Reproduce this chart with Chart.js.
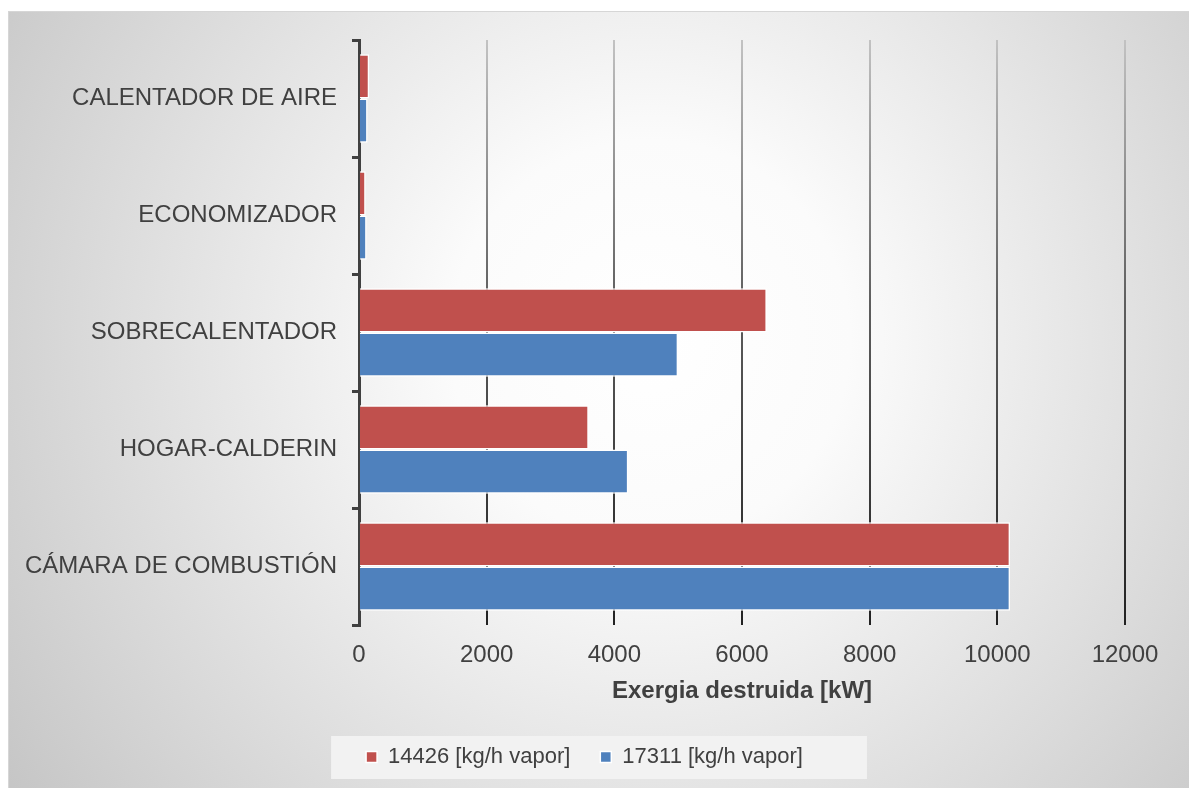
<!DOCTYPE html>
<html>
<head>
<meta charset="utf-8">
<script src="https://cdn.jsdelivr.net/npm/chart.js@4/dist/chart.umd.min.js"></script>
<style>
  html, body { margin: 0; padding: 0; background: #ffffff; }
  #wrap { width: 1189px; height: 788px; position: relative; }
</style>
</head>
<body>
<div id="wrap"><canvas id="c" width="1189" height="788"></canvas></div>
<script>
const categories = ["CALENTADOR DE AIRE", "ECONOMIZADOR", "SOBRECALENTADOR", "HOGAR-CALDERIN", "CÁMARA DE COMBUSTIÓN"];
const seriesNames = ["14426 [kg/h vapor]", "17311 [kg/h vapor]"];
const series14426 = [160, 105, 6390, 3600, 10200];
const series17311 = [135, 120, 5000, 4220, 10200];
const xTicks = [0, 2000, 4000, 6000, 8000, 10000, 12000];
const axisTitle = "Exergia destruida [kW]";

const FONT = "'Liberation Sans', Arial, sans-serif";
const TEXT = "#404040";

const bgPlugin = {
  id: 'bg',
  afterLayout(chart) {
    const lg = chart.legend;
    if (lg) { lg.left += 12; lg.right += 12; }
  },
  beforeDraw(chart) {
    const ctx = chart.ctx;
    const W = chart.width, H = chart.height;
    ctx.save();
    ctx.fillStyle = '#ffffff';
    ctx.fillRect(0, 0, W, H);
    const g = ctx.createRadialGradient(650, 340, 0, 650, 340, 800);
    g.addColorStop(0, '#ffffff');
    g.addColorStop(0.25, '#fbfbfb');
    g.addColorStop(1, '#c4c4c4');
    ctx.fillStyle = g;
    ctx.fillRect(8, 11, W - 8, H - 11);
    ctx.strokeStyle = '#d6d6d6';
    ctx.lineWidth = 1;
    ctx.strokeRect(8.5, 11.5, W - 8, H - 11);
    const lg = chart.legend;
    if (lg && lg.legendHitBoxes && lg.legendHitBoxes.length) {
      const hb = lg.legendHitBoxes;
      const first = hb[0], last = hb[hb.length - 1];
      const cy = first.top + first.height / 2;
      const left = first.left - 35;
      const right = last.left + last.width + 64;
      ctx.fillStyle = 'rgba(242,242,242,0.95)';
      ctx.fillRect(left, cy - 21, right - left, 43);
    }
    ctx.restore();
  }
};

new Chart(document.getElementById('c'), {
  type: 'bar',
  data: {
    labels: categories,
    datasets: [
      { label: seriesNames[0], data: series14426, backgroundColor: '#C0504D', borderColor: '#ffffff', borderWidth: 1.5 },
      { label: seriesNames[1], data: series17311, backgroundColor: '#4F81BD', borderColor: '#ffffff', borderWidth: 1.5 }
    ]
  },
  options: {
    indexAxis: 'y',
    responsive: false,
    animation: false,
    devicePixelRatio: 1,
    layout: { padding: { left: 20, right: 64, top: 40, bottom: 10 } },
    datasets: { bar: { categoryPercentage: 0.755, barPercentage: 1.0 } },
    scales: {
      x: {
        type: 'linear',
        min: 0, max: 12000,
        afterBuildTicks(scale) { scale.ticks = xTicks.map(v => ({ value: v })); },
        afterFit(scale) { scale.height = 91; },
        border: { display: false },
        grid: {
          drawTicks: false,
          lineWidth: 2,
          color(ctx) {
            const chart = ctx.chart;
            const a = chart.chartArea;
            if (!a) return '#555555';
            const g = chart.ctx.createLinearGradient(0, a.top, 0, a.bottom);
            g.addColorStop(0, '#c2c2c2');
            g.addColorStop(0.45, '#5e5e5e');
            g.addColorStop(1, '#222222');
            return g;
          }
        },
        ticks: {
          padding: 16,
          color: TEXT,
          font: { family: FONT, size: 24 },
          callback: (v) => String(v)
        },
        title: {
          display: true,
          text: axisTitle,
          color: TEXT,
          font: { family: FONT, size: 24, weight: 'bold' },
          padding: { top: 0, bottom: 10 }
        }
      },
      y: {
        type: 'category',
        afterFit(scale) { scale.width = 339; },
        border: { display: true, color: '#404040', width: 3 },
        grid: {
          offset: true,
          drawOnChartArea: false,
          drawTicks: true,
          tickLength: 7,
          color: '#404040',
          lineWidth: 3
        },
        ticks: {
          padding: 15,
          color: TEXT,
          font: { family: FONT, size: 24 }
        }
      }
    },
    plugins: {
      legend: {
        position: 'bottom',
        labels: {
          boxWidth: 11,
          boxHeight: 11,
          padding: 30,
          color: TEXT,
          font: { family: FONT, size: 22 }
        }
      },
      tooltip: { enabled: false }
    }
  },
  plugins: [bgPlugin]
});
</script>
</body>
</html>
